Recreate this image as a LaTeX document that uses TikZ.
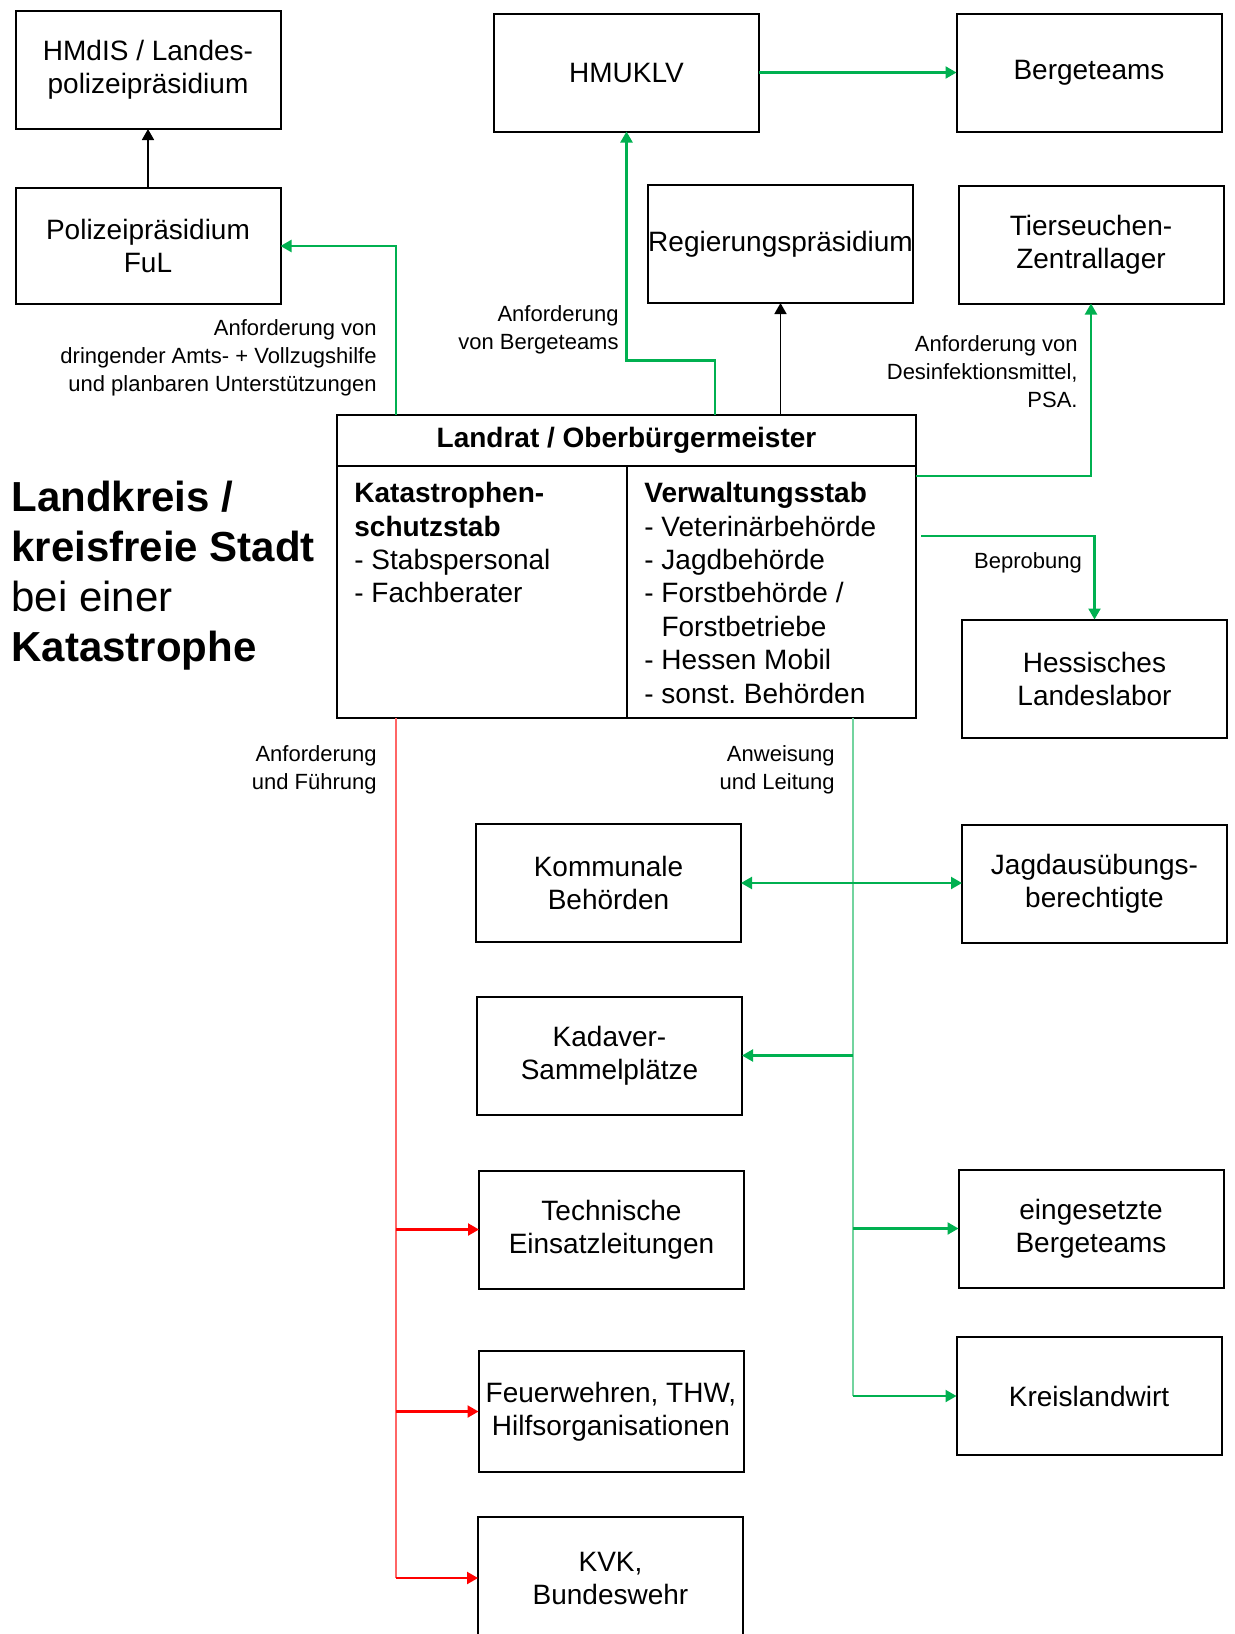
\documentclass[tikz,border=0pt]{standalone}
\usepackage{fontspec}
\setmainfont{Liberation Sans}
\usepackage{tikz}
\usetikzlibrary{calc}
\usetikzlibrary{arrows.meta}
\frenchspacing
\tikzset{orgbox/.style={shape=rectangle,draw=black,line width=1pt,align=center,inner sep=0,outer sep=0,minimum width=132.5pt,minimum height=59pt,font=\fontsize{14}{16.5}\selectfont}}
\tikzset{randtext/.style={align=right,inner sep=0,font=\fontsize{11}{14}\selectfont}}
\tikzset{stabtext/.style={anchor=north west,align=left,inner sep=0,font=\fontsize{14}{16.7}\selectfont}}
\tikzset{gpfeil/.style={draw=gruen,line width=1.1pt,->}}
\tikzset{gline/.style={draw=gruen!55,line width=0.7pt}}
\tikzset{rpfeil/.style={draw=rot,line width=1.1pt,->}}
\tikzset{rline/.style={draw=rot!60,line width=0.7pt}}
\tikzset{spfeil/.style={draw=black,line width=0.8pt,->}}

\begin{document}
\begin{tikzpicture}[x=0.5pt,y=-0.5pt,>={Triangle[length=5.5pt,width=6pt]}]

	\definecolor{gruen}{RGB}{0,176,80}
	\definecolor{rot}{RGB}{255,0,0}
	\useasboundingbox (0,0) rectangle (1235,1634);

	% obere Reihe
	\node [orgbox] (hmdis) at (148,70) {HMdIS / Landes-\\polizeipräsidium};
	\node [orgbox,minimum height=58pt] (polfl) at (148,246) {Polizeipräsidium\\FuL};
	\node [orgbox] (hmuklv) at (626.5,72.5) {HMUKLV};
	\node [orgbox] (berge) at (1089,72.5) {Bergeteams};
	\node [orgbox] (regpr) at (780.5,244) {Regierungspräsidium};
	\node [orgbox] (tsz) at (1091,244.5) {Tierseuchen-\\Zentrallager};

	\node [stabtext,font=\fontsize{21}{25}\selectfont] (titel) at (11,481) {\textbf{Landkreis /}\\\textbf{kreisfreie Stadt}\\bei einer\\\textbf{Katastrophe}};

	% Landrat
	\node [orgbox,minimum width=289.5pt,minimum height=25.5pt,font=\fontsize{14}{16.7}\selectfont\bfseries] (landrat) at (626.5,440.5) {Landrat / Oberbürgermeister};
	\node [orgbox,minimum width=145pt,minimum height=126pt,anchor=north west] (kstab) at (landrat.south west) {};
	\node [orgbox,minimum width=144.5pt,minimum height=126pt,anchor=north east,line width=1.2pt] (vstab) at (landrat.south east) {};
	\node [stabtext] (kstabtext) at (354,482) {\textbf{Katastrophen-}\\\textbf{schutzstab}\\- Stabspersonal\\- Fachberater};
	\node [stabtext] (vstabtext) at (644,482) {\textbf{Verwaltungsstab}\\- Veterinärbehörde\\- Jagdbehörde\\- Forstbehörde /\\\phantom{-} Forstbetriebe\\- Hessen Mobil\\- sonst. Behörden};

	\node [orgbox] (labor) at (1094.5,678.5) {Hessisches\\Landeslabor};

	% untere Boxen
	\node [orgbox] (komm) at (608.5,883) {Kommunale\\Behörden};
	\node [orgbox] (jagd) at (1094.5,883.5) {Jagdausübungs-\\berechtigte};
	\node [orgbox] (kadaver) at (609.5,1055.5) {Kadaver-\\Sammelplätze};
	\node [orgbox] (tel) at (611.5,1229.5) {Technische\\Einsatzleitungen};
	\node [orgbox] (eberge) at (1091,1228.5) {eingesetzte\\Bergeteams};
	\node [orgbox,minimum height=60.5pt] (feuer) at (611,1411.5) {Feuerwehren, THW,\\Hilfsorganisationen};
	\node [orgbox] (kreislw) at (1089,1396) {Kreislandwirt};
	\node [orgbox,minimum height=61pt] (kvk) at (610.5,1578) {KVK,\\Bundeswehr};

	% Beschriftungen
	\node [randtext,anchor=east] (lblpol) at (377,358) {Anforderung von\\dringender Amts- + Vollzugshilfe\\und planbaren Unterstützungen};
	\node [randtext,anchor=east] (lblberge) at (619,330) {Anforderung\\von Bergeteams};
	\node [randtext,anchor=east] (lbldesinf) at (1078,372) {Anforderung von\\Desinfektionsmittel,\\PSA.};
	\node [randtext] (lblprobe) at (1028,563) {Beprobung};
	\node [randtext,anchor=east] (lblfuehr) at (377,770) {Anforderung\\und Führung};
	\node [randtext,anchor=east] (lblleit) at (835,770) {Anweisung\\und Leitung};

	% Verbindungen nach oben
	\draw [spfeil] (polfl) -- (hmdis);
	\draw [gpfeil] (hmuklv) -- (berge);
	\draw [gpfeil] ($(landrat.north west)+(59,0)$) |- (polfl.east);
	\draw [gpfeil] ($(landrat.north west)+(378,0)$) |- ($(hmuklv.south)+(0,229)$) -- (hmuklv.south);
	\draw [spfeil] (regpr.south |- landrat.north) -- (regpr.south);
	\draw [gpfeil] ($(vstab.north east)+(0,10)$) -| (tsz.south);
	\draw [gpfeil] ($(vstab.north east)+(5,70)$) -| (labor.north);

	% Anforderung und Fuehrung
	\coordinate (rot0) at ($(kstab.south west)+(59,0)$);
	\draw [rline] (rot0) -- (rot0 |- kvk.west);
	\foreach \z in {tel,feuer,kvk}
		\draw [rpfeil] (rot0 |- \z.west) -- (\z.west);

	% Anweisung und Leitung
	\coordinate (gr0) at ($(vstab.south west)+(226,0)$);
	\draw [gline] (gr0) -- (gr0 |- kreislw.west);
	\draw [gpfeil,<->] (komm.east) -- (komm.east -| jagd.west);
	\draw [gpfeil] (gr0 |- kadaver.east) -- (kadaver.east);
	\draw [gpfeil] (gr0 |- eberge.west) -- (eberge.west);
	\draw [gpfeil] (gr0 |- kreislw.west) -- (kreislw.west);

\end{tikzpicture}
\end{document}
